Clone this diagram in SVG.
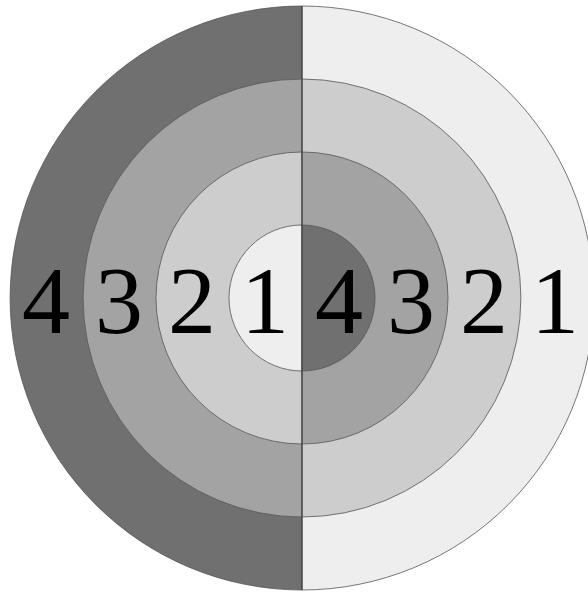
<svg xmlns="http://www.w3.org/2000/svg" width="588" height="594" viewBox="0 0 588 594">
<style>
.r{stroke:#555;stroke-width:0.8}
.c1{fill:#eeeeee}.c2{fill:#cdcdcd}.c3{fill:#a3a3a3}.c4{fill:#707070}
.t{font-size:96px;fill:#000;text-anchor:middle}
</style>
<rect width="588" height="594" fill="#ffffff"/>
<g id="ring-outer">
<path class="r c4" d="M302,6 A292,292 0 0 0 302,590 Z"/>
<path class="r c1" d="M302,6 A292,292 0 0 1 302,590 Z"/>
</g>
<g id="ring-3">
<path class="r c3" d="M302,79 A219,219 0 0 0 302,517 Z"/>
<path class="r c2" d="M302,79 A219,219 0 0 1 302,517 Z"/>
</g>
<g id="ring-2">
<path class="r c2" d="M302,152 A146,146 0 0 0 302,444 Z"/>
<path class="r c3" d="M302,152 A146,146 0 0 1 302,444 Z"/>
</g>
<g id="ring-inner">
<path class="r c1" d="M302,225 A73,73 0 0 0 302,371 Z"/>
<path class="r c4" d="M302,225 A73,73 0 0 1 302,371 Z"/>
</g>
<g id="divider">
<line x1="302" y1="6" x2="302" y2="590" stroke="#444" stroke-width="1.2"/>
</g>
<g id="labels" font-family="Liberation Serif, DejaVu Serif, serif">
<text class="t" x="46" y="333">4</text>
<text class="t" x="119" y="333">3</text>
<text class="t" x="192" y="333">2</text>
<text class="t" x="265" y="333">1</text>
<text class="t" x="339" y="333">4</text>
<text class="t" x="411" y="333">3</text>
<text class="t" x="484" y="333">2</text>
<text class="t" x="555" y="333">1</text>
</g>
</svg>
